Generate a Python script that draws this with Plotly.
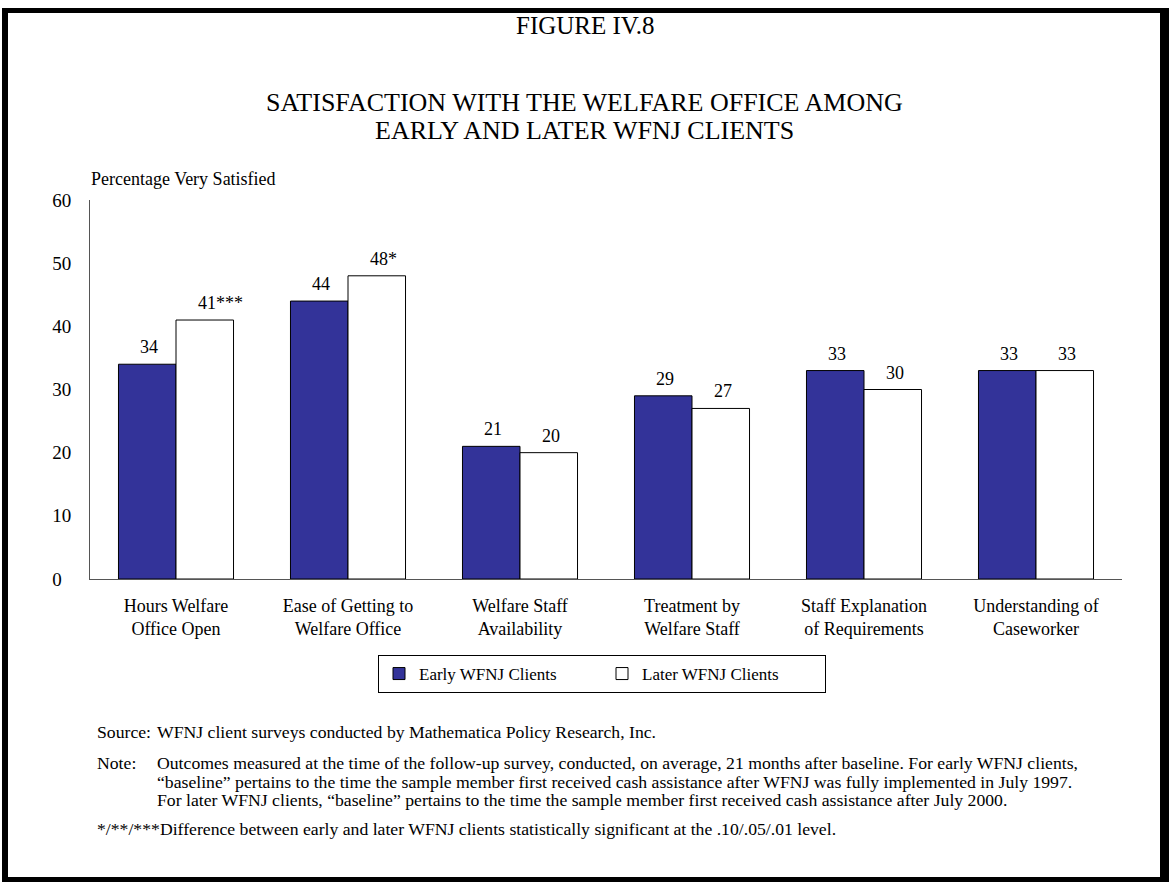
import plotly.graph_objects as go

# ---- data -------------------------------------------------------------
categories = [
    "Hours Welfare<br>Office Open",
    "Ease of Getting to<br>Welfare Office",
    "Welfare Staff<br>Availability",
    "Treatment by<br>Welfare Staff",
    "Staff Explanation<br>of Requirements",
    "Understanding of<br>Caseworker",
]
early_pct = [34, 44, 21, 29, 33, 33]
later_pct = [41, 48, 20, 27, 30, 33]
early_sig = ["", "", "", "", "", ""]
later_sig = ["***", "*", "", "", "", ""]
y_tick_vals = [0, 10, 20, 30, 40, 50, 60]
y_tick_text = ["0\u00a0\u00a0", "10", "20", "30", "40", "50", "60"]

series_names = ["Early WFNJ Clients", "Later WFNJ Clients"]

note_lines = [
    "Outcomes measured at the time of the follow-up survey, conducted, on average, 21 months after baseline. For early WFNJ clients,",
    "\u201cbaseline\u201d pertains to the time the sample member first received cash assistance after WFNJ was fully implemented in July 1997.",
    "For later WFNJ clients, \u201cbaseline\u201d pertains to the time the sample member first received cash assistance after July 2000.",
]

# ---- page geometry (pixels) ------------------------------------------
W, H = 1169, 882
SERIF = "Liberation Serif, Times New Roman, serif"
NAVY = "#333399"
BAR_FONT = 18


def fx(p):
    return p / W


def fy(p):
    return 1 - p / H


fig = go.Figure()
fig.add_bar(x=categories, y=early_pct, name=series_names[0],
            marker=dict(color=NAVY, line=dict(color="black", width=1)))
fig.add_bar(x=categories, y=later_pct, name=series_names[1],
            marker=dict(color="white", line=dict(color="black", width=1)))

# value labels above each bar (significance stars trail the number)
plot_w = 1122 - 90
bargap = 0.331
bar_w = plot_w / len(categories) * (1 - bargap) / 2
annotations = []
for values, sig, side in ((early_pct, early_sig, -1), (later_pct, later_sig, 1)):
    for cat, v, s in zip(categories, values, sig):
        half_digits = 0.5 * BAR_FONT * len(str(v)) / 2
        annotations.append(dict(
            x=cat, y=v, xref="x", yref="y",
            text=f"{v}{s}", showarrow=False,
            xanchor="left", yanchor="bottom",
            xshift=side * bar_w / 2 - half_digits, yshift=5,
            font=dict(family=SERIF, size=BAR_FONT, color="black"),
        ))

# titles
annotations += [
    dict(x=0.5, y=fy(26), xref="paper", yref="paper", text="FIGURE IV.8",
         showarrow=False, xanchor="center", yanchor="middle",
         font=dict(family=SERIF, size=25, color="black")),
    dict(x=0.5, y=fy(103), xref="paper", yref="paper",
         text="SATISFACTION WITH THE WELFARE OFFICE AMONG",
         showarrow=False, xanchor="center", yanchor="middle",
         font=dict(family=SERIF, size=26, color="black")),
    dict(x=0.5, y=fy(130), xref="paper", yref="paper",
         text="EARLY AND LATER WFNJ CLIENTS",
         showarrow=False, xanchor="center", yanchor="middle",
         font=dict(family=SERIF, size=26, color="black")),
    dict(x=fx(89), y=fy(179), xref="paper", yref="paper",
         text="Percentage Very Satisfied",
         showarrow=False, xanchor="left", yanchor="middle",
         font=dict(family=SERIF, size=18, color="black")),
]

# source and notes
NOTE_FONT = dict(family=SERIF, size=17.7, color="black")
annotations.append(dict(x=fx(95), y=fy(732), xref="paper", yref="paper",
                        text="Source:", showarrow=False, xanchor="left",
                        yanchor="middle", font=NOTE_FONT))
annotations.append(dict(x=fx(155), y=fy(732), xref="paper", yref="paper",
                        text="WFNJ client surveys conducted by Mathematica Policy Research, Inc.",
                        showarrow=False, xanchor="left", yanchor="middle",
                        font=NOTE_FONT))
annotations.append(dict(x=fx(95), y=fy(763), xref="paper", yref="paper",
                        text="Note:", showarrow=False, xanchor="left",
                        yanchor="middle", font=NOTE_FONT))
for i, line in enumerate(note_lines):
    annotations.append(dict(x=fx(155), y=fy(763 + 18.5 * i), xref="paper",
                            yref="paper", text=line, showarrow=False,
                            xanchor="left", yanchor="middle", font=NOTE_FONT))
annotations.append(dict(x=fx(95), y=fy(829), xref="paper", yref="paper",
                        text="*/**/***Difference between early and later WFNJ clients statistically significant at the .10/.05/.01 level.",
                        showarrow=False, xanchor="left", yanchor="middle",
                        font=NOTE_FONT))

# page frame with heavier right/bottom edge
shapes = [
    dict(type="rect", xref="paper", yref="paper", layer="below",
         x0=fx(2), y0=fy(8), x1=fx(1169), y1=fy(882),
         fillcolor="black", line=dict(width=0)),
    dict(type="rect", xref="paper", yref="paper", layer="below",
         x0=fx(8), y0=fy(13), x1=fx(1160), y1=fy(877),
         fillcolor="white", line=dict(width=0)),
]

fig.update_layout(
    width=W, height=H,
    margin=dict(l=0, r=0, t=0, b=0),
    template="none",
    paper_bgcolor="white",
    plot_bgcolor="rgba(0,0,0,0)",
    barmode="group", bargap=bargap, bargroupgap=0,
    font=dict(family=SERIF, color="black"),
    showlegend=True,
    legend=dict(orientation="h", x=fx(602), xanchor="center",
                y=fy(655), yanchor="top",
                bordercolor="black", borderwidth=1, bgcolor="white",
                font=dict(family=SERIF, size=17, color="black"),
                entrywidth=178, traceorder="normal"),
    xaxis=dict(domain=[fx(90), fx(1122)], type="category",
               showline=True, linecolor="#555555", linewidth=1,
               showgrid=False, zeroline=False, ticks="",
               ticklabelstandoff=10, automargin=False,
               tickfont=dict(family=SERIF, size=18, color="black")),
    yaxis=dict(domain=[fy(579), fy(200)], range=[0, 60],
               tickvals=y_tick_vals, ticktext=y_tick_text,
               showline=True, linecolor="#555555", linewidth=1,
               showgrid=False, zeroline=False, ticks="",
               ticklabelstandoff=14, automargin=False,
               tickfont=dict(family=SERIF, size=19, color="black")),
    annotations=annotations,
    shapes=shapes,
)

fig.write_html("out.html")
